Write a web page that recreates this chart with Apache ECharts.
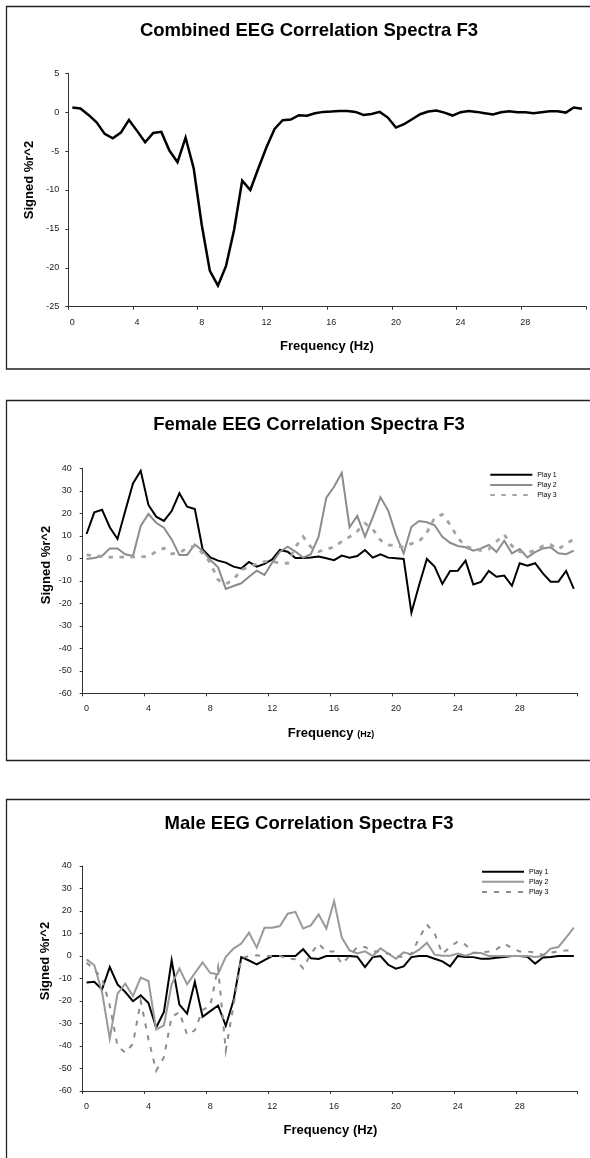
<!DOCTYPE html>
<html>
<head>
<meta charset="utf-8">
<script src="https://cdn.jsdelivr.net/npm/echarts@6/dist/echarts.min.js"></script>
<style>
html,body{margin:0;padding:0;background:#fff;}
#chart{width:590px;height:1158px;}
</style>
</head>
<body>
<div id="chart"></div>
<script>
// ---------------- DATA ----------------
var freqHz = [0,0.5,1,1.5,2,2.5,3,3.5,4,4.5,5,5.5,6,6.5,7,7.5,8,8.5,9,9.5,10,10.5,11,11.5,12,12.5,13,13.5,14,14.5,15,15.5,
  16,16.5,17,17.5,18,18.5,19,19.5,20,20.5,21,21.5,22,22.5,23,23.5,24,24.5,25,25.5,26,26.5,27,27.5,28,28.5,29,29.5,30,30.5,31,31.5];

var combinedF3 = [0.6,0.47,-0.35,-1.29,-2.79,-3.35,-2.62,-0.99,-2.4,-3.86,-2.66,-2.53,-4.93,-6.43,-3.26,-7.2,-14.5,-20.4,-22.3,-19.75,-15.1,-8.79,-10.0,-7.2,-4.5,-2.15,-1.03,-0.95,-0.39,-0.45,-0.13,0.04,
  0.08,0.15,0.15,0.04,-0.35,-0.22,0.04,-0.69,-1.98,-1.55,-0.9,-0.26,0.08,0.21,-0.05,-0.43,0,0.15,0.04,-0.13,-0.3,0,0.13,0,0,-0.13,0,0.13,0.13,-0.05,0.6,0.43];

var femalePlay1 = [10.8,20.4,21.6,13.8,8.6,21,33.3,38.9,23.7,18.5,16.6,21,28.9,22.9,21.9,4.0,0.4,-1.05,-1.9,-3.7,-4.5,-1.6,-3.7,-2.5,-0.5,3.7,2.9,0.1,0.1,0.4,0.8,0,
  -0.8,1.2,0.3,1.0,3.7,0.3,1.8,0.3,0,-0.3,-24.2,-11.9,-0.3,-3.7,-11.4,-5.6,-5.5,-1.05,-11.6,-10.5,-5.6,-8.2,-7.7,-12.2,-2.2,-3.3,-2.2,-6.7,-10.4,-10.4,-5.6,-13.6];
var femalePlay2 = [-0.3,0.1,1.0,4.4,4.4,1.8,1.0,14.4,19.7,15.8,13.6,8.4,1.5,1.5,6.2,3.4,-0.8,-4,-13.6,-12.3,-11.1,-8.2,-5.5,-7.4,-1.9,2.9,5.2,3.0,0.3,1.8,9.6,27,
  31.8,38,13.8,18.8,9.6,18.2,27.1,21.2,10.4,2.2,14,16.6,16,14.7,9.6,6.9,5.5,4.9,3.4,4.4,5.9,2.8,7.8,2.2,4.1,0.4,2.7,4.4,4.9,2.2,1.8,3.4];
var femalePlay3 = [1.5,1.2,0.8,0.5,0.5,0.5,0.6,0.7,0.8,3.0,4.5,2.0,2.5,4.5,5.5,2.2,-2.0,-9.5,-11.5,-9.5,-5.0,-4.0,-2.5,-1.5,-1.5,-2.0,-2.2,5.0,9.6,5.0,3.0,4.0,
  5.0,7.5,9.5,12.0,15.5,13.0,8.0,6.0,5.5,5.0,6.5,7.5,11.5,18.0,19.5,15.0,9.0,5.5,4.0,3.5,4.0,7.5,10.5,5.5,3.0,2.5,3.5,5.5,6.0,4.0,6.5,8.5];

var malePlay1 = [-11.8,-11.5,-14.9,-4.9,-12.6,-16,-20.1,-17.5,-20.9,-31.8,-24.9,-1.9,-21.6,-25.6,-11.5,-27,-24.5,-22,-31,-19.7,-0.5,-2.0,-3.7,-1.8,0,0,0,0,3.0,-1.0,-1.3,0,
  0,0,0,-0.3,-4.9,-0.5,0,-3.9,-5.6,-4.6,-0.5,0,0,-1.2,-2.4,-4.6,0,-0.4,-0.5,-1.2,-1.2,-0.8,-0.4,0,0,-0.3,-3.4,-0.7,-0.4,0,0,0];
var malePlay2 = [-1.5,-4.1,-16,-36.7,-16.7,-12.3,-17.8,-9.6,-11.1,-32.6,-30.8,-12.6,-5.6,-12.6,-7.6,-2.9,-7.6,-8.1,-0.4,3.3,5.5,10.4,3.7,12.6,12.6,13.3,18.8,19.6,12.2,13.6,18.5,12.2,
  24.4,8.2,2.5,1.1,2.1,0,3.4,1.1,-1.2,1.6,0.7,2.8,5.9,0.6,0.1,0.1,1.1,0.1,1.3,1.3,0,0,0,0,0,0,-0.4,0,3.3,4.0,8.2,12.6];
var malePlay3 = [-3,-6,-10,-22,-40,-43,-39,-20,-37,-51,-45,-27,-25,-35,-33,-24,-22,-5,-42,-22,-1,0,0.3,0,0,0,-1,-1.5,-5.5,1,5.5,2,
  2,-3.5,0,4,4,2,2,1,0,-0.5,1,8,14,10,1,4,6.5,5,1.5,1.5,2,3,5.5,3.5,2,2,1.5,0.5,1.5,2,2.5,2.5];

var titles = ['Combined EEG Correlation Spectra F3','Female EEG Correlation Spectra F3','Male EEG Correlation Spectra F3'];
var playNames = ['Play 1','Play 2','Play 3'];

// ---------------- CHART ----------------
var FONT = '"Liberation Sans", Arial, sans-serif';
var chart = echarts.init(document.getElementById('chart'), null, {renderer:'canvas'});

function xAx(g){
  return {
    type:'category', gridIndex:g, data:freqHz, boundaryGap:true,
    axisLine:{show:true, onZero:false, lineStyle:{color:'#333', width:1}},
    axisTick:{show:true, interval:7, alignWithLabel:false, length:3, lineStyle:{color:'#333'}},
    axisLabel:{interval:7, margin:11, fontSize:9, fontFamily:FONT, color:'#222'},
    splitLine:{show:false}
  };
}
function yAx(g, mn, mx, iv, mg){
  return {
    type:'value', gridIndex:g, min:mn, max:mx, interval:iv,
    axisLine:{show:true, onZero:false, lineStyle:{color:'#333', width:1}},
    axisTick:{show:true, length:3, lineStyle:{color:'#333'}},
    axisLabel:{margin:mg, fontSize:9, fontFamily:FONT, color:'#222'},
    splitLine:{show:false}
  };
}
function ln(name, g, data, color, width, type){
  return {
    name:name, type:'line', xAxisIndex:g, yAxisIndex:g, data:data,
    symbol:'none', showSymbol:false, smooth:false, animation:false,
    lineStyle:{color:color, width:width, type:type||'solid', cap:'butt', join:'miter'},
    itemStyle:{color:color}
  };
}
function txt(t, x, y, size, rot, extra){
  var o = {type:'text', x:x, y:y, rotation:rot||0, silent:true,
    style:{text:t, fontSize:size, fontWeight:'bold', fontFamily:FONT, fill:'#000',
      align:'center', verticalAlign:'middle', textAlign:'center', textVerticalAlign:'middle'}};
  if (extra) { for (var k in extra) o.style[k] = extra[k]; }
  return o;
}
function border(y, h){
  return {type:'rect', silent:true, shape:{x:6.5, y:y, width:620, height:h},
    style:{fill:'none', stroke:'#222', lineWidth:1.3}};
}

var legendFmt = function(n){ return n.replace(/^(Female|Male) /, ''); };
var legTextStyle = {fontSize:7, fontFamily:FONT, color:'#000'};

var option = {
  backgroundColor:'#fff',
  animation:false,
  grid:[
    {left:68.3, top:73.3, width:517.7, height:233.4},
    {left:82.7, top:468.3, width:495, height:225},
    {left:82.7, top:866, width:495, height:225}
  ],
  xAxis:[xAx(0), xAx(1), xAx(2)],
  yAxis:[yAx(0,-25,5,5,9), yAx(1,-60,40,10,11), yAx(2,-60,40,10,11)],
  legend:[
    {data:['Female Play 1','Female Play 2','Female Play 3'], orient:'vertical', left:489.3, top:470.7,
     itemWidth:42, itemHeight:10, itemGap:2.2, padding:0, formatter:legendFmt, textStyle:legTextStyle, selectedMode:false,
     itemStyle:{opacity:0}},
    {data:['Male Play 1','Male Play 2','Male Play 3'], orient:'vertical', left:481, top:867.7,
     itemWidth:42, itemHeight:10, itemGap:2.1, padding:0, formatter:legendFmt, textStyle:legTextStyle, selectedMode:false,
     itemStyle:{opacity:0}}
  ],
  series:[
    ln('Combined', 0, combinedF3, '#000', 2.5),
    ln('Female ' + playNames[0], 1, femalePlay1, '#000', 2),
    ln('Female ' + playNames[1], 1, femalePlay2, '#8c8c8c', 2),
    ln('Female ' + playNames[2], 1, femalePlay3, '#a3a3a3', 2.8, [4.5, 6.5]),
    ln('Male ' + playNames[0], 2, malePlay1, '#000', 2),
    ln('Male ' + playNames[1], 2, malePlay2, '#999999', 2),
    ln('Male ' + playNames[2], 2, malePlay3, '#8c8c8c', 2, [5, 7])
  ],
  graphic:[
    border(6.5, 362.5),
    border(400.5, 360),
    border(799.5, 420),
    txt(titles[0], 309, 31, 18.5),
    txt(titles[1], 309, 425, 18.5),
    txt(titles[2], 309, 823.5, 18.5),
    txt('Signed %r^2', 29.5, 180, 13, Math.PI/2),
    txt('Signed %r^2', 46.5, 565, 13, Math.PI/2),
    txt('Signed %r^2', 45, 961, 13, Math.PI/2),
    txt('Frequency (Hz)', 327, 346.7, 13),
    txt('{a|Frequency }{b|(Hz)}', 331, 732, 13, 0, {rich:{
      a:{fontSize:13, fontWeight:'bold', fontFamily:FONT, fill:'#000', lineHeight:15, verticalAlign:'bottom'},
      b:{fontSize:9, fontWeight:'bold', fontFamily:FONT, fill:'#000', lineHeight:13, verticalAlign:'bottom'}}}),
    txt('Frequency (Hz)', 330.5, 1130, 13)
  ]
};
chart.setOption(option);
</script>
</body>
</html>
